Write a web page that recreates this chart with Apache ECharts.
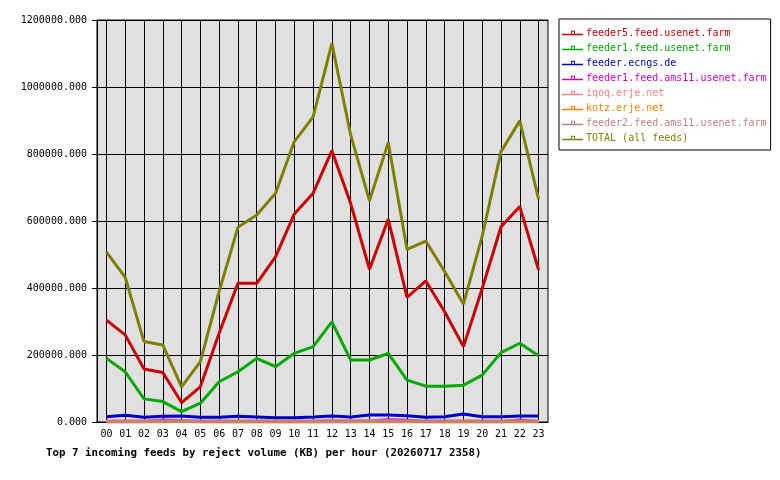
<!DOCTYPE html>
<html>
<head>
  <meta charset="utf-8">
  <title>Top 7 incoming feeds by reject volume</title>
  <script src="https://cdn.jsdelivr.net/npm/echarts@6/dist/echarts.min.js"></script>
  <style>
    html, body { margin: 0; padding: 0; background: #fff; }
  </style>
</head>
<body>
<div id="main" style="width:780px;height:480px;"></div>

<script type="text/javascript">
// hours on x axis
var hours = ['00','01','02','03','04','05','06','07','08','09','10','11',
             '12','13','14','15','16','17','18','19','20','21','22','23'];

// reject volume per feed (KB)
var feeder5 = [304000,260000,158000,148000,58000,105000,265000,414000,414000,493000,621000,683000,
               810000,652000,456000,605000,372000,421000,329000,225000,399000,583000,643000,454000];
var feeder1 = [190000,150000,69000,61000,31000,56000,120000,150000,190000,165000,205000,225000,
               299000,185000,185000,205000,125000,107000,107000,110000,140000,207000,235000,198000];
var ecngs = [16000,20000,14000,17000,18000,14000,14000,17000,15000,13000,13000,15000,
             18000,15000,21000,21000,19000,14000,16000,24000,16000,16000,18000,18000];
var ams11f1 = [1000,1000,1000,6000,4000,1000,1000,1000,1000,1000,1000,1000,
               1000,1000,3000,7000,5000,1000,1000,1000,1000,1000,6000,1000];
var iqoq = [2000,2000,2000,2000,2000,2000,2000,2000,2000,2000,2000,2000,
            5000,3000,4000,3000,2000,2000,2000,2000,2000,2000,2000,2000];
var kotz = [0,0,0,0,2000,0,0,0,0,0,0,0,0,0,0,0,0,0,0,0,0,0,0,0];
var ams11f2 = [3000,3000,3000,3000,3000,3000,3000,3000,3000,3000,3000,3000,
               3000,3000,3000,3000,3000,3000,3000,3000,3000,3000,3000,3000];
var total = [508000,432000,240000,230000,105000,180000,390000,581000,618000,683000,837000,911000,
             1130000,857000,661000,834000,515000,540000,449000,352000,555000,807000,899000,665000];

var feedNames = ['feeder5.feed.usenet.farm','feeder1.feed.usenet.farm','feeder.ecngs.de',
                 'feeder1.feed.ams11.usenet.farm','iqoq.erje.net','kotz.erje.net',
                 'feeder2.feed.ams11.usenet.farm','TOTAL (all feeds)'];
var feedData = [feeder5, feeder1, ecngs, ams11f1, iqoq, kotz, ams11f2, total];
var feedColors = ['#cc0000','#00aa00','#0000cc','#cc00cc','#ff8080','#ff8000','#c08080','#808000'];

var mono = '"DejaVu Sans Mono", "Liberation Mono", monospace';
// little line with a small hollow square, like the gd legend key
var keyIcon = 'path://M0,4h21v1.4h-21z M9,1h4v4h-4z M10,2v2h2v-2z';

var myChart = echarts.init(document.getElementById('main'));

var series = [];
for (var i = 0; i < feedNames.length; i++) {
    series.push({
        name: feedNames[i],
        type: 'line',
        data: feedData[i],
        symbol: 'none',
        animation: false,
        lineStyle: { width: 3, color: feedColors[i] },
        itemStyle: { color: feedColors[i] }
    });
}

var option = {
    animation: false,
    title: {
        text: 'Top 7 incoming feeds by reject volume (KB) per hour (20260717 2358)',
        left: 46,
        top: 448,
        padding: 0,
        textStyle: { fontFamily: mono, fontSize: 10.8, fontWeight: 'bold', color: '#000' }
    },
    legend: {
        orient: 'vertical',
        left: 559,
        top: 19,
        padding: [8, 4, 6, 3],
        itemGap: 3,
        itemWidth: 21,
        itemHeight: 6,
        icon: keyIcon,
        backgroundColor: '#fff',
        borderColor: '#000',
        borderWidth: 1,
        borderRadius: 0,
        data: feedNames.map(function (n, i) {
            return { name: n, icon: keyIcon, itemStyle: { color: feedColors[i] },
                     textStyle: { color: feedColors[i] } };
        }),
        textStyle: { fontFamily: mono, fontSize: 10, lineHeight: 12, padding: [0, 0, 0, -2] }
    },
    grid: {
        left: 97,
        top: 20,
        width: 451,
        height: 402,
        show: true,
        backgroundColor: '#e0e0e0',
        borderColor: '#000',
        borderWidth: 1,
        containLabel: false
    },
    xAxis: {
        type: 'category',
        data: hours,
        boundaryGap: true,
        axisLine: { lineStyle: { color: '#000', width: 1 } },
        axisTick: { alignWithLabel: true, length: 5, lineStyle: { color: '#000' } },
        axisLabel: { fontFamily: mono, fontSize: 10, color: '#000', margin: 7, interval: 0 },
        splitLine: { show: true, alignWithLabel: true, lineStyle: { color: '#000', width: 1 } }
    },
    yAxis: {
        type: 'value',
        min: 0,
        max: 1200000,
        interval: 200000,
        axisLine: { show: true, lineStyle: { color: '#000', width: 1 } },
        axisTick: { show: true, length: 5, lineStyle: { color: '#000' } },
        axisLabel: {
            fontFamily: mono, fontSize: 10, color: '#000', margin: 10,
            formatter: function (v) { return v.toFixed(3); }
        },
        splitLine: { show: true, lineStyle: { color: '#000', width: 1 } }
    },
    series: series
};

myChart.setOption(option);
</script>
</body>
</html>
